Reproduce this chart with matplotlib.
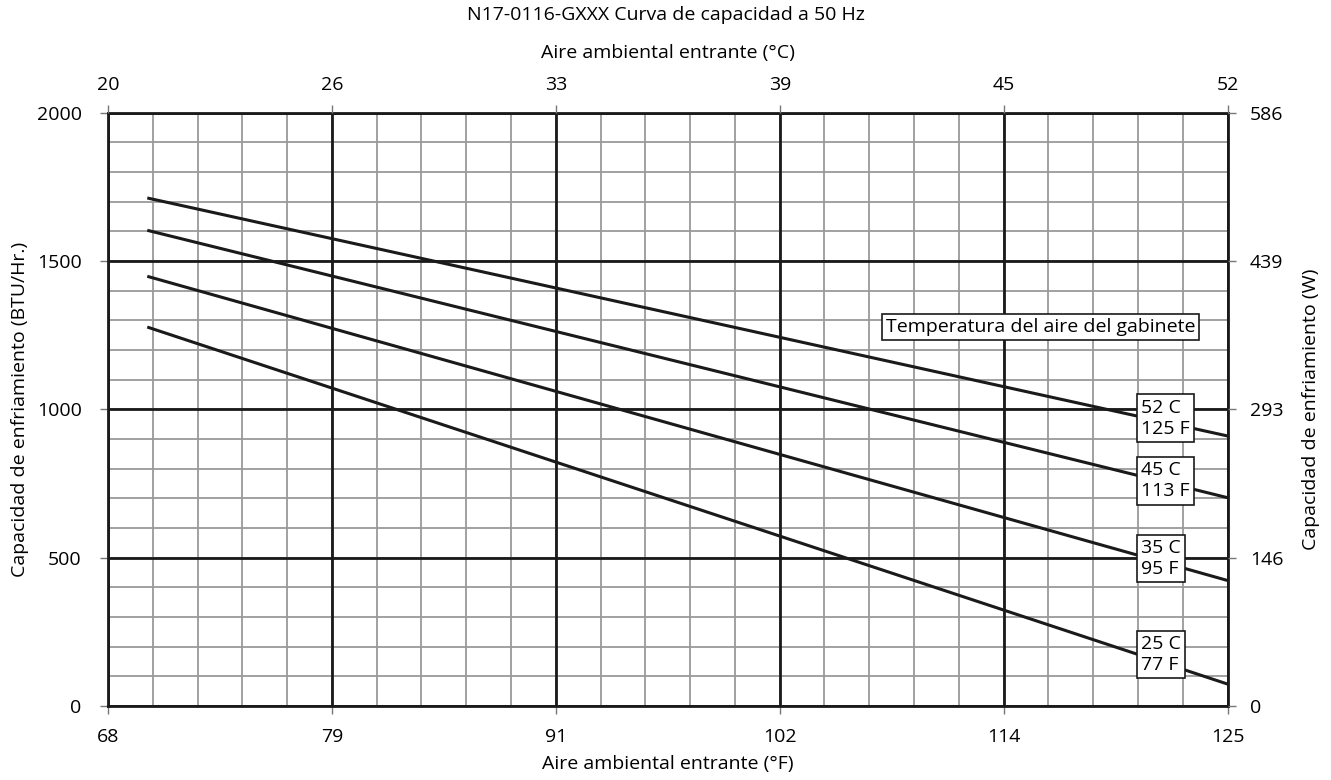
import matplotlib
matplotlib.use("Agg")
import matplotlib.pyplot as plt
import numpy as np

plt.rcParams['font.family'] = ['Open Sans', 'DejaVu Sans']

# Data
x_start_f = 70.0
x_end_f = 125.0
series_names = ["52 C\n125 F", "45 C\n113 F", "35 C\n95 F", "25 C\n77 F"]
start_btu = [1712, 1603, 1448, 1277]
end_btu = [910, 702, 423, 74]
label_y = [970, 759, 497, 174]

bottom_ticks = [68, 79.4, 90.8, 102.2, 113.6, 125]
bottom_labels = ["68", "79", "91", "102", "114", "125"]
top_labels = ["20", "26", "33", "39", "45", "52"]
y_ticks = [0, 500, 1000, 1500, 2000]
right_labels = ["0", "146", "293", "439", "586"]

W, H = 1331, 780
FS = 14
fig = plt.figure(figsize=(W/100, H/100), dpi=100)
ax = fig.add_axes([108/W, 1-706/H, (1227.5-108)/W, (706-112.5)/H])
ax.set_xlim(68, 125)
ax.set_ylim(0, 2000)

# minor grid
for v in np.linspace(68, 125, 26):
    ax.axvline(v, color='#9a9a9a', lw=1.3, zorder=1)
for v in np.arange(0, 2001, 100):
    ax.axhline(v, color='#9a9a9a', lw=1.3, zorder=1)
for v in bottom_ticks:
    ax.axvline(v, color='#1a1a1a', lw=2.0, zorder=2)
for v in y_ticks:
    ax.axhline(v, color='#1a1a1a', lw=2.0, zorder=2)

for s, e in zip(start_btu, end_btu):
    ax.plot([x_start_f, x_end_f], [s, e], color='#1a1a1a', lw=2.2, zorder=3, solid_capstyle='butt')

for name, ly in zip(series_names, label_y):
    ax.text(120.6, ly, name, fontsize=FS, ha='left', va='center', zorder=5,
            linespacing=1.22,
            bbox=dict(boxstyle='square,pad=0.22', fc='white', ec='#1a1a1a', lw=1.2))

ax.text(123.35, 1276, "Temperatura del aire del gabinete", fontsize=FS, ha='right', va='center',
        zorder=5, bbox=dict(boxstyle='square,pad=0.2', fc='white', ec='#1a1a1a', lw=1.2))

for sp in ax.spines.values():
    sp.set_linewidth(2.0)
    sp.set_color('#1a1a1a')
    sp.set_zorder(4)

ax.set_xticks(bottom_ticks)
ax.set_xticklabels(bottom_labels)
ax.set_yticks(y_ticks)
ax.set_yticklabels([str(v) for v in y_ticks])
ax.tick_params(axis='x', labelsize=FS, length=6, width=1, color='#777777', pad=10)
ax.tick_params(axis='y', labelsize=FS, length=6, width=1, color='#777777', pad=13)

axt = ax.twiny()
axt.set_xlim(ax.get_xlim())
axt.set_xticks(bottom_ticks)
axt.set_xticklabels(top_labels)
axt.tick_params(axis='x', labelsize=FS, length=6, width=1, color='#777777', pad=7)
for sp in axt.spines.values():
    sp.set_visible(False)

axr = ax.twinx()
axr.set_ylim(ax.get_ylim())
axr.set_yticks(y_ticks)
axr.set_yticklabels(right_labels)
axr.tick_params(axis='y', labelsize=FS, length=6, width=1, color='#777777', pad=10)
for sp in axr.spines.values():
    sp.set_visible(False)

fig.text(0.5, 1-15/H, "N17-0116-GXXX Curva de capacidad a 50 Hz", fontsize=FS, ha='center', va='center')
fig.text(668/W, 1-53/H, "Aire ambiental entrante (°C)", fontsize=FS, ha='center', va='center')
fig.text(668/W, 1-764/H, "Aire ambiental entrante (°F)", fontsize=FS, ha='center', va='center')
fig.text(20/W, 1-409/H, "Capacidad de enfriamiento (BTU/Hr.)", fontsize=FS, ha='center', va='center', rotation=90)
fig.text(1311/W, 1-409/H, "Capacidad de enfriamiento (W)", fontsize=FS, ha='center', va='center', rotation=90)

fig.savefig("out.png", dpi=100)
